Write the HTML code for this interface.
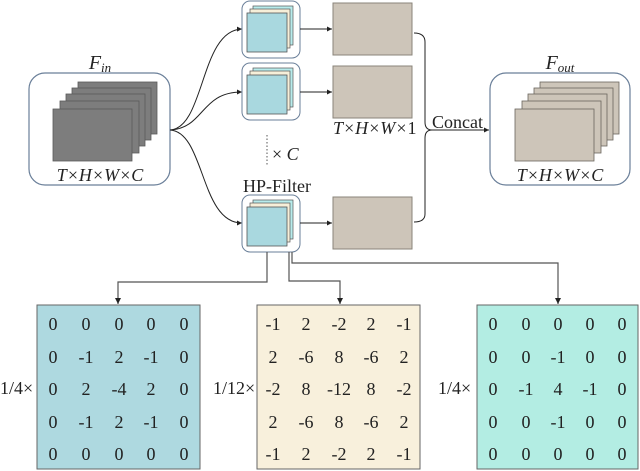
<!DOCTYPE html><html><head><style>body{margin:0;background:#fff}svg{display:block}text{font-family:"Liberation Serif",serif;fill:#222}</style></head><body>
<svg width="640" height="471" viewBox="0 0 640 471" xmlns="http://www.w3.org/2000/svg">
<defs><marker id="a" markerWidth="6" markerHeight="6" refX="5" refY="3" orient="auto"><path d="M0,0.5L5,3L0,5.5z" fill="#222"/></marker></defs>
<rect x="29" y="73" width="141" height="112" rx="16" fill="#fff" stroke="#6a7f99" stroke-width="1.2"/>
<text x="100" y="69" font-size="20" font-style="italic" text-anchor="middle">F<tspan font-size="13" dy="3">in</tspan></text>
<g fill="#7d7d7d" stroke="#5a5a5a" stroke-width="0.8">
<rect x="78" y="82" width="79" height="52"/><rect x="72" y="88" width="79" height="52"/><rect x="66" y="94" width="79" height="52"/><rect x="60" y="101" width="79" height="52"/><rect x="53" y="109" width="79" height="52"/></g>
<text x="100" y="181" font-size="18" font-style="italic" text-anchor="middle">T×H×W×C</text>
<g fill="none" stroke="#222" stroke-width="1">
<path d="M170,130 C205,128 200,30 242,29" marker-end="url(#a)"/>
<path d="M170,130 C205,128 200,92 242,92" marker-end="url(#a)"/>
<path d="M170,130 C205,132 200,223 242,223" marker-end="url(#a)"/>
</g>
<g id="fb">
<rect x="242" y="1" width="58" height="57" rx="8" fill="#fff" stroke="#6a7f99"/>
<rect x="253" y="6" width="40" height="39" fill="#b8ecec" stroke="#555" stroke-width="0.7"/>
<rect x="250" y="9" width="40" height="39" fill="#f6efd9" stroke="#555" stroke-width="0.7"/>
<rect x="247" y="13" width="40" height="39" fill="#a9d8df" stroke="#555" stroke-width="0.8"/>
</g>
<use href="#fb" y="62"/><use href="#fb" y="194"/>
<line x1="267" y1="135" x2="267" y2="166" stroke="#555" stroke-dasharray="1.5,2"/>
<text x="272" y="160" font-size="18"><tspan>× </tspan><tspan font-style="italic">C</tspan></text>
<text x="243" y="192" font-size="18">HP-Filter</text>
<g fill="#cdc5b9" stroke="#8a847a"><rect x="333" y="3" width="79" height="52"/><rect x="333" y="66" width="79" height="52"/><rect x="333" y="197" width="79" height="52"/></g>
<g stroke="#222" stroke-width="1" fill="none">
<line x1="300" y1="29" x2="332" y2="29" marker-end="url(#a)"/>
<line x1="300" y1="92" x2="332" y2="92" marker-end="url(#a)"/>
<line x1="300" y1="223" x2="332" y2="223" marker-end="url(#a)"/>
<path d="M414,33 Q425,33 425,42 L425,122 Q425,130 432,130 Q425,130 425,138 L425,214 Q425,222 414,222"/>
<line x1="432" y1="130" x2="489" y2="130" marker-end="url(#a)"/>
</g>
<text x="333" y="134" font-size="18" font-style="italic">T×H×W×<tspan font-style="normal">1</tspan></text>
<text x="432" y="128" font-size="18">Concat</text>
<rect x="490" y="73" width="140" height="112" rx="16" fill="#fff" stroke="#6a7f99" stroke-width="1.2"/>
<text x="560" y="69" font-size="20" font-style="italic" text-anchor="middle">F<tspan font-size="13" dy="3">out</tspan></text>
<g fill="#cdc5b9" stroke="#6a655d" stroke-width="0.8">
<rect x="540" y="82" width="79" height="52"/><rect x="534" y="88" width="79" height="52"/><rect x="528" y="94" width="79" height="52"/><rect x="522" y="101" width="79" height="52"/><rect x="515" y="109" width="79" height="52"/></g>
<text x="560" y="181" font-size="18" font-style="italic" text-anchor="middle">T×H×W×C</text>
<g stroke="#555" stroke-width="1.2" fill="none">
<path d="M267,252 L267,282 L118,282 L118,304" marker-end="url(#a)"/>
<path d="M289,252 L289,281 L340,281 L340,304" marker-end="url(#a)"/>
<path d="M292,252 L292,263 L558,263 L558,304" marker-end="url(#a)"/>
</g>
<g stroke="#666" stroke-width="1"><rect x="37" y="305" width="163" height="164" fill="#aed9e0"/><rect x="257" y="305" width="163" height="164" fill="#f8f0dc"/><rect x="477" y="305" width="161" height="164" fill="#b3ede3"/></g>
<g font-size="18" text-anchor="middle">
<g transform="translate(37,306)">
<text x="16" y="24">0</text><text x="49" y="24">0</text><text x="82" y="24">0</text><text x="114" y="24">0</text><text x="147" y="24">0</text>
<text x="16" y="57">0</text><text x="49" y="57">-1</text><text x="82" y="57">2</text><text x="114" y="57">-1</text><text x="147" y="57">0</text>
<text x="16" y="89">0</text><text x="49" y="89">2</text><text x="82" y="89">-4</text><text x="114" y="89">2</text><text x="147" y="89">0</text>
<text x="16" y="122">0</text><text x="49" y="122">-1</text><text x="82" y="122">2</text><text x="114" y="122">-1</text><text x="147" y="122">0</text>
<text x="16" y="154">0</text><text x="49" y="154">0</text><text x="82" y="154">0</text><text x="114" y="154">0</text><text x="147" y="154">0</text>
</g>
<g transform="translate(257,306)">
<text x="16" y="24">-1</text><text x="49" y="24">2</text><text x="82" y="24">-2</text><text x="114" y="24">2</text><text x="147" y="24">-1</text>
<text x="16" y="57">2</text><text x="49" y="57">-6</text><text x="82" y="57">8</text><text x="114" y="57">-6</text><text x="147" y="57">2</text>
<text x="16" y="89">-2</text><text x="49" y="89">8</text><text x="82" y="89">-12</text><text x="114" y="89">8</text><text x="147" y="89">-2</text>
<text x="16" y="122">2</text><text x="49" y="122">-6</text><text x="82" y="122">8</text><text x="114" y="122">-6</text><text x="147" y="122">2</text>
<text x="16" y="154">-1</text><text x="49" y="154">2</text><text x="82" y="154">-2</text><text x="114" y="154">2</text><text x="147" y="154">-1</text>
</g>
<g transform="translate(477,306)">
<text x="16" y="24">0</text><text x="49" y="24">0</text><text x="81" y="24">0</text><text x="113" y="24">0</text><text x="145" y="24">0</text>
<text x="16" y="57">0</text><text x="49" y="57">0</text><text x="81" y="57">-1</text><text x="113" y="57">0</text><text x="145" y="57">0</text>
<text x="16" y="89">0</text><text x="49" y="89">-1</text><text x="81" y="89">4</text><text x="113" y="89">-1</text><text x="145" y="89">0</text>
<text x="16" y="122">0</text><text x="49" y="122">0</text><text x="81" y="122">-1</text><text x="113" y="122">0</text><text x="145" y="122">0</text>
<text x="16" y="154">0</text><text x="49" y="154">0</text><text x="81" y="154">0</text><text x="113" y="154">0</text><text x="145" y="154">0</text>
</g>
</g>
<g font-size="18"><text x="0" y="394">1/4×</text><text x="213" y="394">1/12×</text><text x="438" y="394">1/4×</text></g>
</svg></body></html>
